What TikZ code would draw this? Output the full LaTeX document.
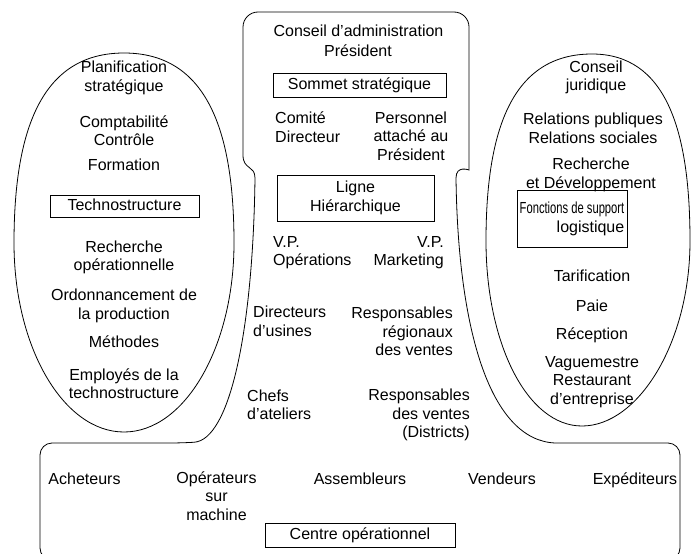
\documentclass[tikz,border=0pt]{standalone}
\usepackage{fontspec}
\usepackage{graphicx}
\setmainfont{Liberation Sans}
\begin{document}
\begin{tikzpicture}[x=1pt,y=-1pt,
  lbl/.style={font=\fontsize{16}{18.5}\selectfont, align=center, inner sep=0pt},
  sline/.style={text height=11.6pt, text depth=3.4pt},
  lbll/.style={lbl, align=left, anchor=west},
  lblr/.style={lbl, align=right, anchor=east},
  boxed/.style={lbl, draw, line width=0.8pt},
  outline/.style={line width=0.8pt}]
\useasboundingbox (0,0) rectangle (691,554);
\fill[white] (0,0) rectangle (691,554);
\clip (0,0) rectangle (691,554);

% outline of the central line and operating core
\draw[outline] (40,560) [rounded corners=12] -- (40,443) -- (182,443) [sharp corners]
  .. controls (230,440) and (253,330) .. (255,178)
  .. controls (255,165) and (243,170) .. (243,155)
  [rounded corners=15] -- (243,12) -- (469,12) -- (469,155) [sharp corners]
  .. controls (469,170) and (456,165) .. (456,178)
  .. controls (458,330) and (490,440) .. (555,443)
  [rounded corners=12] -- (680,443) -- (680,560) -- cycle;

% egg-shaped outlines of technostructure and support staff
\draw[outline] (234,243) .. controls (234,130) and (206.5,53) .. (124,53)
  .. controls (41.5,53) and (14,130) .. (14,243)
  .. controls (14,347) and (63.3,432) .. (124,432)
  .. controls (184.7,432) and (234,347) .. cycle;
\draw[outline] (690,241) .. controls (690,129) and (665.5,54) .. (592,54)
  .. controls (512.5,54) and (486,129) .. (486,241)
  .. controls (486,343) and (527,426) .. (582,426)
  .. controls (638,426) and (690,343) .. cycle;

% technostructure
\node[lbl] (lpl) at (124,78) {Planification\\stratégique};
\node[lbl] (lcc) at (124,130.5) {Comptabilité\\Contrôle};
\node[lbl, sline] (lfo) at (124,166) {Formation};
\node[boxed, sline, minimum width=149pt, minimum height=22pt] (ltb) at (124.5,206) {Technostructure};
\node[lbl] (lro) at (124,257.5) {Recherche\\opérationnelle};
\node[lbl] (lord) at (124,306) {Ordonnancement de\\la production};
\node[lbl, sline] (lmet) at (124,343) {Méthodes};
\node[lbl] (lemp) at (124,383.5) {Employés de la\\technostructure};

% strategic apex
\node[lbl, sline] (cca) at (358.5,32) {Conseil d’administration};
\node[lbl, sline] (cpr) at (358,52) {Président};
\node[boxed, sline, minimum width=173pt, minimum height=24pt] (csom) at (359.5,85) {Sommet stratégique};
\node[lbll] (ccom) at (275,127) {Comité\\Directeur};
\node[lbl] (cpers) at (411,136) {Personnel\\attaché au\\Président};

% middle line
\node[boxed, minimum width=157pt, minimum height=46pt] (clig) at (355.5,198) {Ligne\\Hiérarchique};
\node[lbll] (cvpo) at (273,252.5) {V.P.\\Opérations};
\node[lblr] (cvpm) at (444,252.5) {V.P.\\Marketing};
\node[lbll] (cdir) at (253,321.5) {Directeurs\\d’usines};
\node[lblr] (crrv) at (453,331.5) {Responsables\\régionaux\\des ventes};
\node[lbll] (cche) at (247,405) {Chefs\\d’ateliers};
\node[lblr] (crvd) at (470,415) {Responsables\\des ventes\\(Districts)};

% support staff
\node[lbl] (rcj) at (596,77.5) {Conseil\\juridique};
\node[lbl] (rrel) at (593,128.5) {Relations publiques\\Relations sociales};
\node[lbl] (rrec) at (591,175) {Recherche\\et Développement};
\node[boxed, align=right, minimum width=110pt, minimum height=57pt] (rfon) at (572,219) {\scalebox{0.7}[1]{Fonctions de support}\\logistique};
\node[lbl, sline] (rtar) at (592,277) {Tarification};
\node[lbl, sline] (rpai) at (592,307) {Paie};
\node[lbl, sline] (rrecp) at (592,335) {Réception};
\node[lbl] (rvag) at (592,382) {Vaguemestre\\Restaurant\\d’entreprise};

% operating core
\node[lbl, sline] (bach) at (84.5,480) {Acheteurs};
\node[lbl] (bope) at (216.5,496) {Opérateurs\\sur\\machine};
\node[lbl, sline] (bass) at (360,480) {Assembleurs};
\node[lbl, sline] (bven) at (502,480) {Vendeurs};
\node[lbl, sline] (bexp) at (635,480) {Expéditeurs};
\node[boxed, sline, minimum width=190pt, minimum height=24pt] (bcen) at (360,535) {Centre opérationnel};
\end{tikzpicture}
\end{document}
